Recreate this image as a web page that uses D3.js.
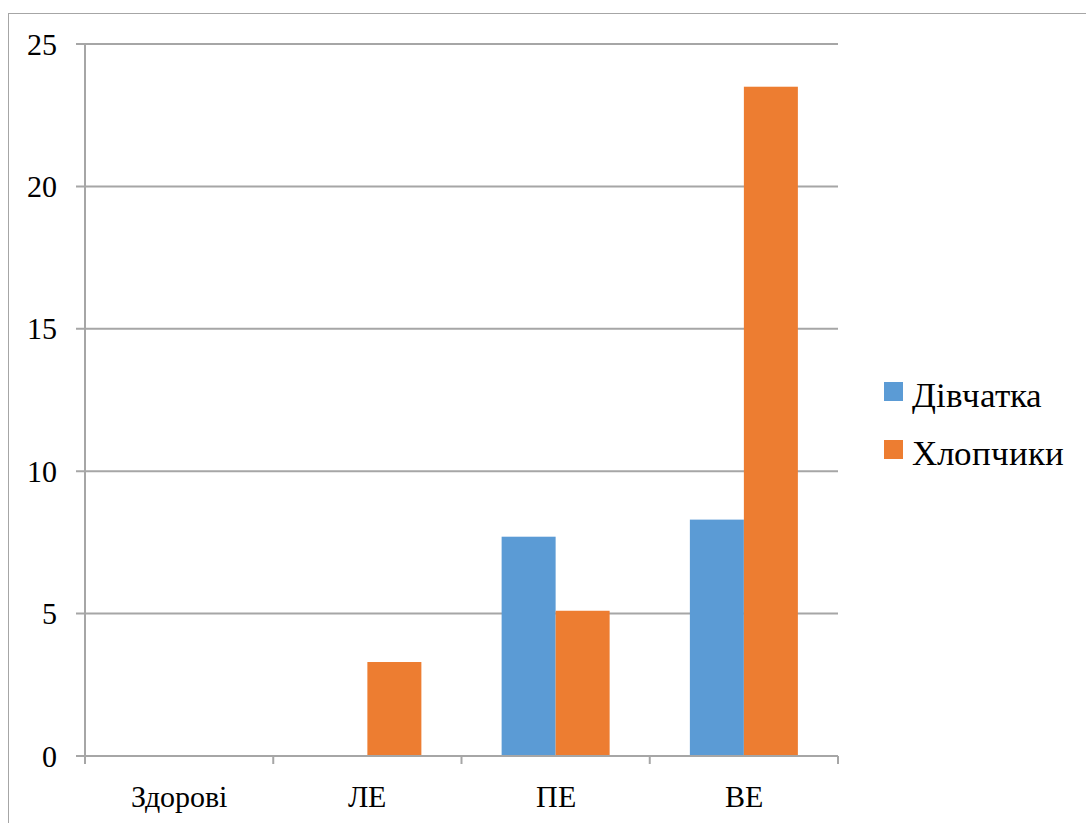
<!DOCTYPE html>
<html>
<head>
<meta charset="utf-8">
<script src="https://cdn.jsdelivr.net/npm/d3@7"></script>
<style>
  @font-face {
    font-family: "ChartSerif";
    src: local("Liberation Serif"), local("LiberationSerif"), local("Times New Roman"), local("Tinos");
  }
  html, body { margin: 0; padding: 0; background: #fff; }
  svg { display: block; }
  svg text { font-family: "ChartSerif", "Liberation Serif", "Times New Roman", serif !important; }
</style>
</head>
<body>
<svg id="chart" width="1086" height="823"></svg>
<script>
// Categories and series values
const categories = ["Здорові", "ЛЕ", "ПЕ", "ВЕ"];
const seriesNames = ["Дівчатка", "Хлопчики"];
const girls = [0, 0, 7.7, 8.3];
const boys = [0, 3.3, 5.1, 23.5];
const yTicks = [0, 5, 10, 15, 20, 25];
const colors = ["#5B9BD5", "#ED7D31"];

const seriesValues = [girls, boys];
const rows = categories.map((c, i) => ({
  category: c,
  values: seriesNames.map((s, j) => ({ series: s, value: seriesValues[j][i], idx: j }))
}));

const svg = d3.select("#chart");
const gridColor = "#a6a6a6";
const plot = { left: 85, right: 838, top: 44, bottom: 756 };

// Outer chart frame (extends past the visible area on the right and bottom)
svg.append("rect")
  .attr("x", 8.5).attr("y", 13.5)
  .attr("width", 1200).attr("height", 1000)
  .attr("fill", "none").attr("stroke", "#a6a6a6").attr("stroke-width", 1);

const x0 = d3.scaleBand().domain(categories).range([plot.left, plot.right]).padding(0);
const x1 = d3.scaleBand().domain(seriesNames).range([0, x0.bandwidth()])
  .paddingInner(0).paddingOuter(0.743);
const y = d3.scaleLinear().domain([0, 25]).range([plot.bottom, plot.top]);

// Horizontal gridlines with short ticks to the left of the axis
svg.append("g").selectAll("line")
  .data(yTicks)
  .join("line")
  .attr("x1", plot.left - 9).attr("x2", plot.right)
  .attr("y1", d => y(d)).attr("y2", d => y(d))
  .attr("stroke", gridColor).attr("stroke-width", 2);

// Y tick labels
svg.append("g").selectAll("text")
  .data(yTicks)
  .join("text")
  .attr("x", 57)
  .attr("y", d => y(d))
  .attr("dy", "0.35em")
  .attr("text-anchor", "end")
  .attr("font-size", 30)
  .attr("fill", "#000")
  .text(d => d);

// Bars
const groups = svg.append("g").selectAll("g")
  .data(rows)
  .join("g")
  .attr("transform", d => `translate(${x0(d.category)},0)`);

groups.selectAll("rect")
  .data(d => d.values.filter(v => v.value > 0))
  .join("rect")
  .attr("x", d => x1(d.series))
  .attr("width", x1.bandwidth())
  .attr("y", d => y(d.value))
  .attr("height", d => y(0) - y(d.value))
  .attr("fill", d => colors[d.idx]);

// Vertical axis line
svg.append("line")
  .attr("x1", plot.left).attr("x2", plot.left)
  .attr("y1", plot.top).attr("y2", plot.bottom)
  .attr("stroke", gridColor).attr("stroke-width", 2);

// Baseline and category tick marks
svg.append("line")
  .attr("x1", plot.left).attr("x2", plot.right)
  .attr("y1", plot.bottom).attr("y2", plot.bottom)
  .attr("stroke", gridColor).attr("stroke-width", 2);

const boundaries = categories.map(c => x0(c)).concat([x0(categories[categories.length - 1]) + x0.bandwidth()]);
svg.append("g").selectAll("line")
  .data(boundaries)
  .join("line")
  .attr("x1", d => d).attr("x2", d => d)
  .attr("y1", plot.bottom).attr("y2", plot.bottom + 8)
  .attr("stroke", gridColor).attr("stroke-width", 2);

// Category labels
svg.append("g").selectAll("text")
  .data(categories)
  .join("text")
  .attr("x", d => x0(d) + x0.bandwidth() / 2)
  .attr("y", 807)
  .attr("text-anchor", "middle")
  .attr("font-size", 30)
  .attr("fill", "#000")
  .text(d => d);

// Legend
const legend = svg.append("g").selectAll("g")
  .data(seriesNames)
  .join("g")
  .attr("transform", (d, i) => `translate(884, ${382 + i * 58})`);

legend.append("rect")
  .attr("width", 19).attr("height", 19)
  .attr("fill", (d, i) => colors[i]);

legend.append("text")
  .attr("x", 28)
  .attr("y", 25)
  .attr("font-size", 35)
  .attr("fill", "#000")
  .text(d => d);
</script>
</body>
</html>
